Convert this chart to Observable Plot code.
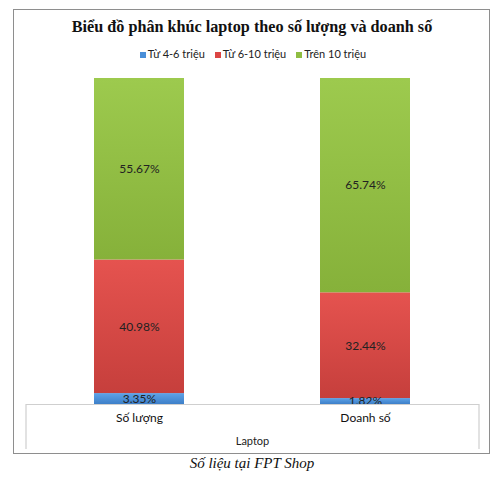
<!DOCTYPE html>
<html>
<head>
<meta charset="utf-8">
<script src="https://cdn.jsdelivr.net/npm/d3@7"></script>
<script src="https://cdn.jsdelivr.net/npm/@observablehq/plot@0.6"></script>
<style>
  html, body { margin: 0; padding: 0; background: #fff; }
  #wrap { position: relative; width: 500px; height: 477px; overflow: hidden; }
  #frame { position: absolute; left: 13px; top: 9px; width: 475px; height: 443px; border: 1.5px solid #8e8e8e; }
  #title { position: absolute; left: 0; width: 504px; top: 18px; text-align: center;
           font-family: "Liberation Serif", serif; font-weight: bold; font-size: 16.2px; color: #111; }
  #legend { position: absolute; left: 0; width: 506px; top: 47px; text-align: center;
            font-family: Lato, "Open Sans", sans-serif; font-size: 11px; color: #222; }
  #legend span.item { margin: 0 5px; }
  #legend span.sw { display: inline-block; width: 6px; height: 6px; margin-right: 2px; vertical-align: 0px; }
  #chart { position: absolute; left: 0; top: 70px; }
  #caption { position: absolute; left: 0; width: 504px; top: 455px; text-align: center;
             font-family: "Liberation Serif", serif; font-style: italic; font-size: 15px; color: #111; }
</style>
</head>
<body>
<div id="wrap">
  <div id="frame"></div>
  <div id="title"></div>
  <div id="legend"></div>
  <div id="chart"></div>
  <div id="caption"></div>
</div>
<script>
const titleText = "Biểu đồ phân khúc laptop theo số lượng và doanh số";
const captionText = "Số liệu tại FPT Shop";
const axisTitle = "Laptop";
const categories = ["Số lượng", "Doanh số"];
const series = ["Từ 4-6 triệu", "Từ 6-10 triệu", "Trên 10 triệu"];
const soLuong = [3.35, 40.98, 55.67];
const doanhSo = [1.82, 32.44, 65.74];
const colors = ["#4a8fd8", "#dc4644", "#8fbd42"];
const gradTop = ["#5ea3e8", "#e5534f", "#9dca4e"];
const gradBottom = ["#3d7fc8", "#c63f3c", "#86b13a"];

const values = [soLuong, doanhSo];
const data = [];
categories.forEach((c, i) => series.forEach((s, j) => data.push({cat: c, series: s, value: values[i][j]})));

document.getElementById("title").textContent = titleText;
document.getElementById("caption").textContent = captionText;
const legend = document.getElementById("legend");
series.forEach((s, j) => {
  const item = document.createElement("span");
  item.className = "item";
  const sw = document.createElement("span");
  sw.className = "sw";
  sw.style.background = colors[j];
  item.appendChild(sw);
  item.appendChild(document.createTextNode(s));
  legend.appendChild(item);
});

const fmt = v => v.toFixed(2) + "%";

const plot = Plot.plot({
  width: 500,
  height: 384,
  marginLeft: 26,
  marginRight: 21,
  marginTop: 8,
  marginBottom: 50,
  style: {fontFamily: "Lato, 'Open Sans', sans-serif", fontSize: "11px", color: "#222", background: "transparent"},
  x: {domain: categories, paddingInner: 0.6, paddingOuter: 0.3, label: null},
  y: {domain: [0, 100], axis: null},
  color: {domain: series, range: series.map((s, j) => `url(#grad${j})`)},
  marks: [
    Plot.barY(data, Plot.stackY({x: "cat", y: "value", fill: "series", order: series})),
    Plot.text(data, Plot.stackY({x: "cat", y: "value", z: "series", order: series, text: d => fmt(d.value), fill: "#222", fontSize: 12})),
    Plot.ruleY([0], {stroke: "#cfcfcf", strokeWidth: 1.2}),
    Plot.axisX({tickSize: 0, tickPadding: 9, fontSize: 12, fill: "#111", label: null})
  ]
});

const svg = d3.select(plot);
const defs = svg.insert("defs", ":first-child");
series.forEach((s, j) => {
  const g = defs.append("linearGradient").attr("id", `grad${j}`).attr("x1", 0).attr("y1", 0).attr("x2", 0).attr("y2", 1);
  g.append("stop").attr("offset", "0%").attr("stop-color", gradTop[j]);
  g.append("stop").attr("offset", "100%").attr("stop-color", gradBottom[j]);
});

// axis table box sides and title
const xr = plot.scale("x").range;
const yb = 384 - 50;
svg.append("line").attr("x1", xr[0]).attr("x2", xr[0]).attr("y1", yb).attr("y2", yb + 45).attr("stroke", "#cfcfcf").attr("stroke-width", 1.2);
svg.append("line").attr("x1", xr[1]).attr("x2", xr[1]).attr("y1", yb).attr("y2", yb + 45).attr("stroke", "#cfcfcf").attr("stroke-width", 1.2);
svg.append("text").attr("x", (xr[0] + xr[1]) / 2).attr("y", yb + 41).attr("text-anchor", "middle")
  .attr("font-size", 11).attr("fill", "#222").text(axisTitle);

document.getElementById("chart").appendChild(plot);
</script>
</body>
</html>
